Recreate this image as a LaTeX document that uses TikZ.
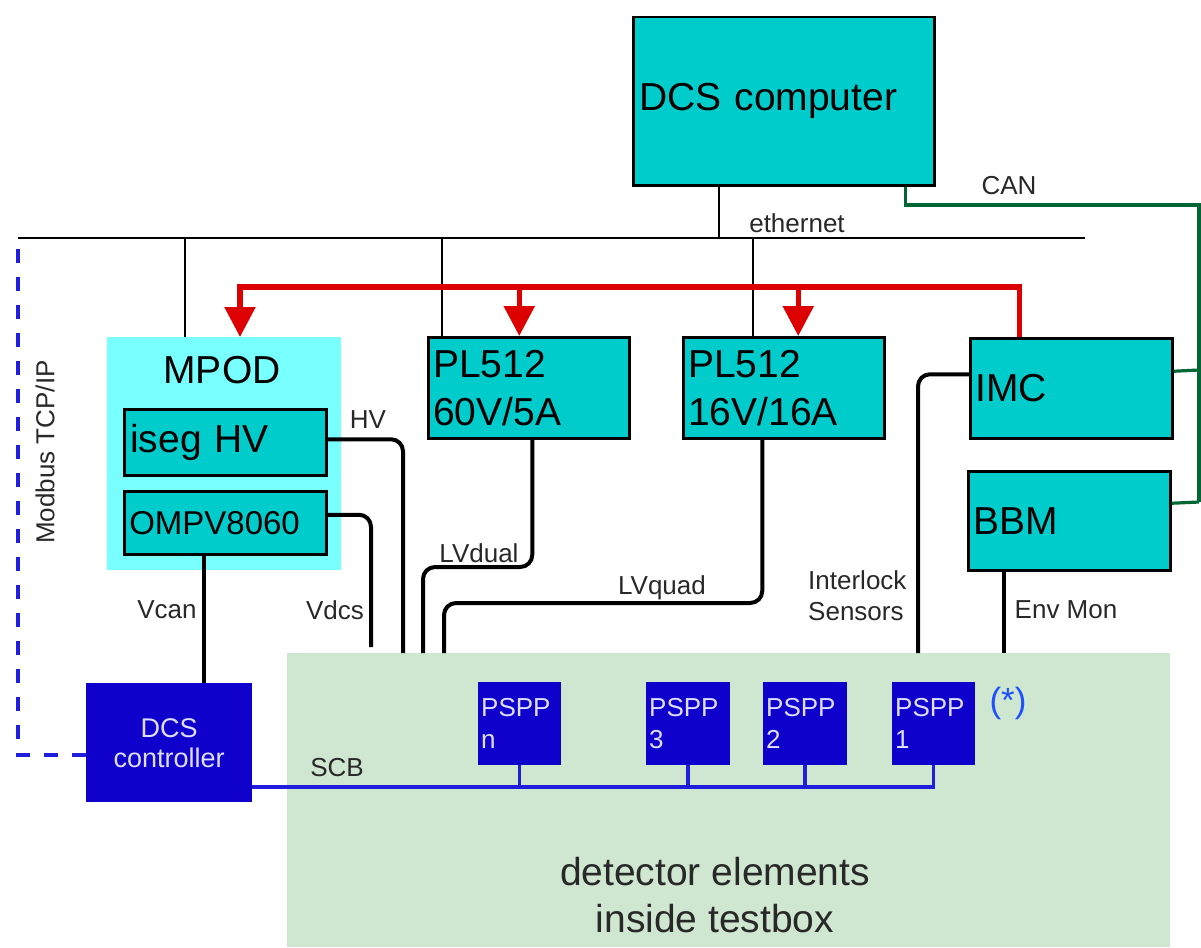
\documentclass[tikz,border=0pt]{standalone}
\usepackage{fontspec}
\setmainfont{Liberation Sans}
\usetikzlibrary{arrows.meta,calc}
\definecolor{boxcyan}{RGB}{0,204,204}
\definecolor{mpodcyan}{RGB}{120,255,255}
\definecolor{detgreen}{RGB}{207,230,208}
\definecolor{ctrlblue}{RGB}{16,0,204}
\definecolor{redline}{RGB}{221,0,0}
\definecolor{canline}{RGB}{0,102,51}
\definecolor{busblue}{RGB}{30,30,220}
\definecolor{labelgray}{RGB}{40,40,40}
\definecolor{paletext}{RGB}{222,222,255}
\definecolor{starblue}{RGB}{30,80,255}
\begin{document}
\begin{tikzpicture}[x=1pt,y=-1pt,
  dev/.style={draw=black, line width=2.5pt, fill=boxcyan, anchor=north west,
    inner xsep=6pt, inner ysep=0pt, align=left, text=black,
    font=\fontsize{39}{48}\selectfont},
  blu/.style={draw=none, fill=ctrlblue, anchor=north west, inner xsep=3pt,
    inner ysep=0pt, text=paletext},
  pspp/.style={blu, minimum width=83pt, minimum height=83pt, text width=77pt,
    align=left, font=\fontsize{26}{32}\selectfont},
  lbl/.style={text=labelgray, inner sep=0pt, font=\fontsize{26}{31}\selectfont},
  eth/.style={draw=black, line width=2pt},
  cable/.style={draw=black, line width=4pt, rounded corners=12pt},
  redarrow/.style={draw=redline, line width=5.5pt,
    -{Triangle[width=30pt,length=30pt]}},
  can/.style={draw=canline, line width=3.2pt},
  scbline/.style={draw=busblue, line width=3.5pt},
  modbus/.style={draw=busblue, line width=4pt, dash pattern=on 14pt off 14pt}
  ]
\useasboundingbox (0,0) rectangle (1201,947);

% background areas
\node[anchor=north west, fill=detgreen, minimum width=883pt, minimum height=294pt, inner sep=0pt] (det) at (287,653) {};
\node[anchor=north west, fill=mpodcyan, minimum width=234pt, minimum height=233pt, inner sep=0pt] (mpod) at (107,337) {};

% devices
\node[dev, minimum width=301pt, minimum height=168pt, text width=289pt] (dcs) at (632,16) {DCS computer};
\node[anchor=center, inner sep=0pt, font=\fontsize{39}{48}\selectfont] (mpodt) at (222,370) {MPOD};
\node[dev, minimum width=202pt, minimum height=66pt, text width=190pt, inner xsep=5pt] (iseg) at (123,408) {iseg HV};
\node[dev, minimum width=202pt, minimum height=63pt, text width=192pt, inner xsep=5pt, font=\fontsize{33}{40}\selectfont] (ompv) at (123,490) {OMPV8060};
\node[dev, minimum width=201pt, minimum height=101pt, text width=191pt, inner xsep=5pt] (pl1) at (427,336) {PL512\\60V/5A};
\node[dev, minimum width=201pt, minimum height=101pt, text width=191pt, inner xsep=5pt] (pl2) at (682,336) {PL512\\16V/16A};
\node[dev, minimum width=202pt, minimum height=100pt, text width=192pt, inner xsep=5pt] (imc) at (969,337) {IMC};
\node[dev, minimum width=202pt, minimum height=99pt, text width=192pt, inner xsep=5pt] (bbm) at (967,470) {BBM};

\node[blu, minimum width=166pt, minimum height=119pt, align=center, font=\fontsize{27}{30}\selectfont] (dcsc) at (86,683) {DCS\\controller};
\node[pspp] (pn) at (478,682) {PSPP\\n};
\node[pspp, minimum width=84pt, text width=78pt] (p3) at (646,682) {PSPP\\3};
\node[pspp, minimum width=84pt, text width=78pt] (p2) at (763,682) {PSPP\\2};
\node[pspp] (p1) at (892,682) {PSPP\\1};

\node[inner sep=0pt, align=center, text=labelgray, font=\fontsize{39}{47}\selectfont] (dett) at (715,895) {detector elements\\inside testbox};

% ethernet
\coordinate (ethL) at (18,238);
\coordinate (ethR) at (1085,238);
\draw[eth] (ethL) -- (ethR);
\coordinate (d0) at ([xshift=-64.5pt]dcs.south);
\draw[eth] (d0) -- (d0 |- ethL);
\coordinate (e1) at (185,238);
\coordinate (e2) at (442,238);
\coordinate (e3) at (753,238);
\draw[eth] (e1) -- (e1 |- mpod.north);
\draw[eth] (e2) -- (e2 |- pl1.north);
\draw[eth] (e3) -- (e3 |- pl2.north);
\node[lbl] (ethl) at (797,223) {ethernet};

% red power distribution
\coordinate (redL) at (240,287);
\coordinate (r0) at ([xshift=-52pt]imc.north);
\coordinate (a1) at ([xshift=-9.5pt]pl1.north);
\coordinate (a2) at ([xshift=14.5pt]pl2.north);
\draw[redarrow] (r0) |- (redL) -- (redL |- mpod.north);
\draw[redarrow] (a1 |- redL) -- (a1);
\draw[redarrow] (a2 |- redL) -- (a2);

% CAN
\coordinate (g1) at (1199,205);
\coordinate (gi) at (1199,370);
\coordinate (gb) at (1199,502);
\draw[can] ([xshift=-30pt]dcs.south east) |- (g1) -- (gb);
\draw[can] ([yshift=17pt]imc.east) -- (gi);
\draw[can] ([yshift=17.5pt]bbm.east) -- (gb);
\node[lbl] (canl) at (1009,186) {CAN};

% Modbus
\draw[modbus] ([yshift=-12.5pt]dcsc.west) -| (ethL);
\node[lbl, rotate=90] (modl) at (45,452) {Modbus TCP/IP};

% cables
\coordinate (hv) at (403,653);
\draw[cable] ([yshift=3pt]iseg.east) -| (hv);
\node[lbl] (hvl) at (368,420) {HV};
\coordinate (vd) at (371,647);
\draw[cable] ([yshift=8pt]ompv.east) -| (vd);
\node[lbl] (vdl) at (335,610) {Vdcs};
\coordinate (vc) at ([xshift=-21pt]ompv.south);
\draw[cable, rounded corners=0pt] (vc) -- (vc |- dcsc.north);
\node[lbl] (vcl) at (167,610) {Vcan};
\coordinate (l1s) at ([xshift=3.5pt]pl1.south);
\coordinate (l1a) at (423,567);
\coordinate (l1b) at (423,653);
\draw[cable] (l1s) |- (l1a) -- (l1b);
\node[lbl] (lvdl) at (479,553) {LVdual};
\coordinate (l2s) at ([xshift=-21.5pt]pl2.south);
\coordinate (l2a) at (444,603);
\coordinate (l2b) at (444,653);
\draw[cable] (l2s) |- (l2a) -- (l2b);
\node[lbl] (lvql) at (662,588) {LVquad};
\coordinate (il) at (918,653);
\draw[cable] ([yshift=14pt]imc.west) -| (il);
\node[lbl, anchor=west, align=left, font=\fontsize{26}{31}\selectfont] (ill) at (808,596) {Interlock\\Sensors};
\coordinate (en) at ([xshift=-65pt]bbm.south);
\draw[cable, rounded corners=0pt] (en) -- (en |- det.north);
\node[lbl] (enl) at (1066,610) {Env Mon};

% SCB bus
\coordinate (scb) at (0,787);
\draw[scbline] ([yshift=-44.5pt]dcsc.east) -| (p1.south);
\draw[scbline] (pn.south) -- (pn.south |- scb);
\draw[scbline] (p3.south) -- (p3.south |- scb);
\draw[scbline] (p2.south) -- (p2.south |- scb);
\node[lbl] (scbl) at (337,768) {SCB};
\node[inner sep=0pt, text=starblue, font=\fontsize{35}{40}\selectfont] (star) at (1008,703) {(*)};
\end{tikzpicture}
\end{document}
